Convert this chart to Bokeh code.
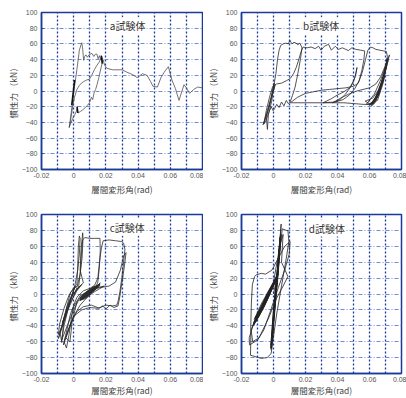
from bokeh.plotting import figure
from bokeh.layouts import gridplot
from bokeh.models import Range1d, FixedTicker, PrintfTickFormatter, Label
from bokeh.embed import file_html
from bokeh.resources import INLINE

# ---------------- data ----------------
x_ticks = [-0.02, 0, 0.02, 0.04, 0.06, 0.08]
x_grid = [-0.01, 0, 0.01, 0.02, 0.03, 0.04, 0.05, 0.06, 0.07]
y_ticks = [-100, -80, -60, -40, -20, 0, 20, 40, 60, 80, 100]
y_grid = [-80, -60, -40, -20, 0, 20, 40, 60, 80]
titles = ["a試験体", "b試験体", "c試験体", "d試験体"]
title_pos = [(0.0335, 83), (0.0298, 83), (0.0333, 84), (0.0333, 83)]
x_label = "層間変形角(rad)"
y_label = "慣性力 （kN）"

a_pts = [(-0.0028, -47), (-0.0015, -27), (0.0003, 3), (0.0015, 20), (0.0028, 40), (0.0035, 52),
         (0.0050, 61.5), (0.0055, 55), (0.0062, 39), (0.0068, 44), (0.0076, 46), (0.0085, 43),
         (0.0095, 46), (0.0113, 48), (0.0125, 44), (0.0135, 47), (0.0144, 47), (0.0152, 41),
         (0.0160, 45), (0.0167, 40), (0.0174, 44), (0.0180, 38),
         (0.0168, 28), (0.0155, 16), (0.0145, 8), (0.0136, 2), (0.0128, -1), (0.0118, -11),
         (0.0110, -8), (0.0098, -15), (0.0087, -18), (0.0072, -21), (0.0056, -24), (0.0042, -26),
         (0.0028, -28), (0.0022, -22), (0.0016, -26), (0.0005, -31), (-0.0006, -35), (-0.0018, -41),
         (-0.0028, -46),
         (-0.0020, -38), (-0.0008, -22), (0.0005, -8), (0.0020, 2), (0.0035, 7), (0.0048, 10),
         (0.0062, 12), (0.0080, 14), (0.0097, 15), (0.0112, 20), (0.0128, 27), (0.0145, 33),
         (0.0159, 37), (0.0172, 43), (0.0182, 40), (0.0192, 33), (0.0206, 29), (0.0240, 27),
         (0.0275, 27), (0.0300, 27), (0.0330, 24), (0.0365, 21), (0.0395, 17), (0.0427, 22),
         (0.0455, 20), (0.0478, 12), (0.0492, 6), (0.0520, 5), (0.0542, 17), (0.0562, 24),
         (0.0588, 31), (0.0610, 14), (0.0632, 3), (0.0654, -12), (0.0685, 8), (0.0700, 4),
         (0.0720, -3), (0.0745, 2), (0.0770, 5), (0.0800, 4)]
a_thick = [[(-0.0012, -18), (0.0006, 14)], [(0.0171, 45), (0.0178, 35)], [(0.0021, -20), (0.0025, -28)]]
a_blob = []

b_pts = [(0.000, 0), (0.001, 8), (-0.003, -22), (-0.0055, -38), (-0.0065, -43), (-0.004, -26),
         (-0.0015, -8), (0.0005, 10), (-0.002, -14), (-0.0045, -33), (-0.0038, -49), (-0.0032, -30),
         (-0.001, -12), (0.000, 5),
         (0.0015, 22), (0.0025, 40), (0.0035, 52), (0.0045, 58), (0.0060, 60), (0.0078, 61),
         (0.0092, 60), (0.0103, 64.5), (0.0115, 60), (0.0128, 62), (0.0140, 61), (0.0152, 59),
         (0.0165, 61), (0.0178, 55),
         (0.0168, 40), (0.0152, 22), (0.0135, 5), (0.0118, -6), (0.0103, -14.5),
         (0.0092, -16), (0.0080, -12), (0.0065, -19), (0.0050, -14), (0.0035, -21), (0.0020, -17),
         (0.0008, -22), (-0.0002, -25), (-0.0015, -20), (-0.0030, -28), (-0.0048, -38), (-0.0060, -42),
         (-0.0045, -25), (-0.0025, -8), (-0.0005, 6), (0.0020, 9), (0.0050, 10), (0.0080, 13),
         (0.0105, 16), (0.0125, 22), (0.0142, 30), (0.0158, 40), (0.0172, 50), (0.0185, 56),
         (0.0210, 55), (0.0235, 56), (0.0260, 54), (0.0282, 57), (0.0297, 52), (0.0318, 57),
         (0.0344, 59.5), (0.0362, 52), (0.0386, 57), (0.0406, 53), (0.0430, 55), (0.0452, 53),
         (0.0468, 51.5), (0.0490, 55), (0.0515, 53), (0.0545, 52), (0.0570, 51),
         (0.0565, 40), (0.0552, 26), (0.0535, 13), (0.0508, 3), (0.0475, -5), (0.0435, -11),
         (0.0385, -14), (0.0310, -15), (0.0210, -15), (0.0105, -15),
         (0.0150, -8), (0.0200, -3), (0.0250, -1), (0.0300, 1), (0.0350, 2), (0.0400, 3),
         (0.0450, 4), (0.0500, 6), (0.0530, 10), (0.0555, 24), (0.0575, 40), (0.0590, 52),
         (0.0605, 56), (0.0622, 55), (0.0640, 53), (0.0665, 52), (0.0690, 51), (0.0705, 50.5),
         (0.0712, 44),
         (0.0695, 25), (0.0672, 8), (0.0650, -4), (0.0625, -13), (0.0600, -17), (0.0560, -17),
         (0.0500, -16), (0.0440, -15), (0.0380, -15), (0.0310, -15),
         (0.0360, -10), (0.0400, -5), (0.0440, -1), (0.0475, 4), (0.0500, 12), (0.0515, 22),
         (0.0522, 30), (0.0510, 18), (0.0485, 6), (0.0450, -4), (0.0415, -11), (0.0370, -15),
         (0.0420, -9), (0.0470, -4), (0.0520, 0), (0.0560, 2), (0.0600, 4), (0.0640, 9),
         (0.0670, 18), (0.0700, 33), (0.0725, 46),
         (0.0705, 30), (0.0680, 12), (0.0650, -3), (0.0618, -16), (0.0580, -17), (0.0630, -4),
         (0.0670, 14), (0.0698, 30), (0.0710, 40), (0.0690, 20), (0.0660, 2), (0.0630, -12),
         (0.0605, -18), (0.0640, -7), (0.0675, 12), (0.0702, 32), (0.0690, 18), (0.0662, -2),
         (0.0635, -15), (0.0612, -19), (0.0650, -6), (0.0685, 16), (0.0708, 36), (0.0712, 42),
         (0.0695, 22), (0.0665, 4), (0.0640, -10), (0.0620, -17), (0.0655, -6), (0.0690, 18),
         (0.0706, 34), (0.0685, 10), (0.0650, -12), (0.0600, -16), (0.0573, -13), (0.0620, -9),
         (0.0660, 2), (0.0700, 26), (0.0718, 40)]
b_thick = []
b_blob = [[(0.0600, -18), (0.0640, -8), (0.0680, 10), (0.0705, 30), (0.0712, 42),
           (0.0695, 18), (0.0660, -4), (0.0625, -16), (0.0600, -18)]]

c_pts = [(0.000, 0), (0.003, 8), (0.005, 12), (0.002, 4), (-0.002, -10), (-0.005, -25),
         (-0.007, -36), (-0.005, -24), (-0.002, -6), (0.002, 6), (0.006, 14),
         (0.004, 30), (0.0045, 55), (0.0056, 77), (0.0058, 70), (0.0052, 45), (0.004, 25),
         (0.002, 8), (-0.001, -8), (-0.004, -22), (-0.007, -40), (-0.0095, -51), (-0.0088, -38),
         (-0.006, -18), (-0.003, -2), (0.000, 8), (0.002, 12),
         (0.0025, 35), (0.0029, 60), (0.0035, 73), (0.004, 70), (0.0035, 50), (0.0025, 30),
         (0.0005, 8), (-0.003, -15), (-0.006, -35), (-0.0085, -50), (-0.0095, -56), (-0.008, -45),
         (-0.005, -25), (-0.001, -2), (0.003, 8),
         (0.004, 25), (0.0048, 50), (0.0055, 68), (0.0070, 71), (0.0100, 70), (0.0130, 70),
         (0.0163, 70), (0.0165, 55), (0.0160, 35), (0.0150, 15), (0.0130, 5), (0.0080, -5),
         (0.0040, -14), (0.0000, -28), (-0.0030, -45), (-0.0064, -64), (-0.0050, -52),
         (-0.0020, -25), (0.0020, -4), (0.0060, 4), (0.0100, 7), (0.0130, 11), (0.0150, 20),
         (0.0160, 40), (0.0172, 58), (0.0183, 67), (0.0220, 68), (0.0260, 67), (0.0297, 66),
         (0.0310, 64), (0.0318, 56), (0.0310, 40), (0.0300, 22), (0.0287, 3), (0.0276, -9),
         (0.0268, -14), (0.0240, -15), (0.0200, -14), (0.0150, -18), (0.0100, -17), (0.0050, -20),
         (0.0000, -28), (-0.0035, -45), (-0.0060, -60), (-0.0045, -68), (-0.0030, -52),
         (-0.0005, -18), (0.0040, -2), (0.0100, 4), (0.0160, 8), (0.0220, 10), (0.0260, 15),
         (0.0290, 30), (0.0310, 48), (0.0325, 52), (0.0315, 35), (0.0300, 15), (0.0285, -5),
         (0.0275, -15), (0.0250, -17), (0.0225, -14), (0.0200, -19), (0.0180, -15), (0.0160, -18),
         (0.0110, -14), (0.0060, -16), (0.0020, -22), (-0.0020, -38), (-0.0050, -55),
         (-0.0023, -60), (-0.0010, -35), (0.0020, -10),
         (0.0060, 0), (0.0120, 8), (0.0160, 12), (0.0120, 4), (0.0060, -5), (0.0040, -8),
         (0.0090, 2), (0.0140, 9), (0.0165, 14), (0.0130, 5), (0.0070, -4), (0.0045, -6),
         (0.0100, 3), (0.0150, 10), (0.0160, 13), (0.0110, 2), (0.0055, -6), (0.0050, -3),
         (0.0110, 5), (0.0155, 11), (0.0135, 6), (0.0080, -2), (0.0050, -7), (0.0095, 1),
         (0.0145, 8), (0.0190, 10), (0.0130, 3), (0.0070, -6),
         (0.0030, -8), (0.0000, -20), (-0.0040, -40), (-0.0075, -58), (-0.0060, -40),
         (-0.0030, -15), (0.0000, 5), (0.0010, 10), (-0.0040, -15), (-0.0085, -48),
         (-0.0074, -61), (-0.0060, -30), (-0.0020, 2), (0.0020, 10)]
c_thick = []
c_blob = [[(0.0040, -4), (0.0080, 3), (0.0120, 9), (0.0163, 12), (0.0160, 10), (0.0120, 3),
           (0.0080, -4), (0.0040, -8), (0.0040, -4)]]

d_pts = [(0.000, 0), (0.002, 20), (-0.004, -8), (-0.012, -32), (-0.008, -14), (-0.002, 8),
         (0.0022, 22), (-0.003, 0), (-0.011, -35), (-0.006, -17), (0.000, 10), (0.0025, 24),
         (-0.004, -4), (-0.012, -37), (-0.005, -12), (0.001, 15), (0.003, 26), (-0.005, -7),
         (-0.0125, -40), (-0.007, -19), (0.000, 12), (0.0028, 25), (-0.006, -12), (-0.0115, -30),
         (-0.004, -2), (0.002, 18),
         (0.0040, 70), (0.0030, 40), (-0.0010, -60), (0.0000, -20), (0.0045, 75), (0.0035, 50),
         (-0.0012, -65), (0.0000, -30), (0.0048, 88), (0.0038, 60), (0.0010, 0), (-0.0015, -70),
         (-0.0008, -40), (0.0030, 40), (0.0055, 82), (0.0080, 80), (0.0090, 80), (0.0096, 66),
         (0.0080, 45), (0.0050, 10), (0.0020, -25), (-0.0015, -75), (-0.0040, -80), (-0.0077, -81),
         (-0.0110, -79), (-0.0144, -77), (-0.0142, -62), (-0.0142, -40), (-0.0138, -10),
         (-0.0132, 12), (-0.0118, 22), (-0.0108, 24), (-0.0077, 26), (-0.0050, 25), (-0.0010, 30),
         (0.0030, 45), (0.0070, 60), (0.0104, 66), (0.0098, 50), (0.0070, 30), (0.0030, 8),
         (-0.0020, -22), (-0.0060, -45), (-0.0100, -58), (-0.0150, -64), (-0.0152, -55),
         (-0.0120, -35), (-0.0060, -10), (0.0000, 15), (0.0035, 55), (0.0042, 72), (0.0030, 30),
         (0.0000, -30), (-0.0017, -64), (-0.0004, -52), (0.0025, 20), (0.0040, 60), (0.0032, 35),
         (-0.0005, -45), (-0.0015, -68), (0.0010, -10), (0.0045, 65), (0.0060, 75), (0.0050, 40),
         (0.0090, 22), (0.0060, 10), (0.0020, -5), (-0.0030, -30), (-0.0090, -55), (-0.0130, -60),
         (-0.0140, -45), (-0.0100, -25), (-0.0040, 0), (0.0020, 20)]
d_thick = []
d_blob = [[(-0.0125, -36), (-0.0080, -18), (-0.0040, 0), (0.0000, 15), (0.0025, 26),
           (0.0025, 22), (-0.0010, 6), (-0.0050, -12), (-0.0090, -28), (-0.0125, -38)],
          [(-0.0018, -68), (0.0000, -20), (0.0020, 20), (0.0045, 75), (0.0048, 72),
           (0.0025, 15), (0.0005, -25), (-0.0010, -66)]]

panels = [(a_pts, a_thick, a_blob, "#505050"), (b_pts, b_thick, b_blob, "#2a2a2a"),
          (c_pts, c_thick, c_blob, "#2a2a2a"), (d_pts, d_thick, d_blob, "#222222")]

FRAME = "#1b3a9a"


def make_panel(pts, thick, blobs, color, title, tpos, left, right, top, bottom, label_gap):
    p = figure(width=203, height=199, x_range=Range1d(-0.02, 0.08), y_range=Range1d(-100, 100),
               output_backend="svg", toolbar_location=None, tools="")
    p.min_border_left = left
    p.min_border_right = right
    p.min_border_top = top
    p.min_border_bottom = bottom
    p.background_fill_color = "white"
    p.border_fill_color = "white"
    p.outline_line_color = FRAME
    p.outline_line_width = 1.5

    p.xaxis.ticker = FixedTicker(ticks=x_ticks)
    p.xaxis.formatter = PrintfTickFormatter(format="%.2f")
    p.xaxis.major_label_overrides = {0: "0"}
    p.yaxis.ticker = FixedTicker(ticks=y_ticks)
    p.xaxis.axis_label = x_label
    p.yaxis.axis_label = y_label
    for ax in (p.xaxis, p.yaxis):
        ax.axis_line_color = FRAME
        ax.axis_line_width = 1.5
        ax.major_tick_in = 2
        ax.major_tick_out = 0
        ax.major_tick_line_color = FRAME
        ax.minor_tick_line_color = None
        ax.major_label_text_font = "Liberation Sans"
        ax.major_label_text_font_size = "7px"
        ax.major_label_text_color = "#555555"
        ax.axis_label_text_font = "Noto Sans CJK JP"
        ax.axis_label_text_font_size = "8.5px"
        ax.axis_label_text_font_style = "normal"
        ax.axis_label_text_color = "#444444"
    p.xaxis.major_label_standoff = 3
    p.yaxis.major_label_standoff = 4
    p.xaxis.axis_label_standoff = label_gap
    p.yaxis.axis_label_standoff = 0

    p.xgrid.ticker = FixedTicker(ticks=x_grid)
    p.xgrid.grid_line_color = FRAME
    p.xgrid.grid_line_width = 1.3
    p.xgrid.grid_line_dash = "2 2"
    p.ygrid.ticker = FixedTicker(ticks=y_grid)
    p.ygrid.grid_line_color = "#6f8fd0"
    p.ygrid.grid_line_width = 1
    p.ygrid.grid_line_dash = "4 2 1 2"

    for blob in blobs:
        p.patch([q[0] for q in blob], [q[1] for q in blob], fill_color="#1a1a1a",
                fill_alpha=0.85, line_color="#1a1a1a", line_width=0.6)
    xs = [q[0] for q in pts]
    ys = [q[1] for q in pts]
    p.line(xs, ys, line_color=color, line_width=0.8)
    for seg in thick:
        p.line([q[0] for q in seg], [q[1] for q in seg], line_color="#111111", line_width=1.6)

    p.add_layout(Label(x=tpos[0], y=tpos[1], text=title, text_font="Noto Sans CJK JP",
                       text_font_size="10px", text_align="center", text_baseline="middle",
                       text_color="#333333", background_fill_color="white",
                       background_fill_alpha=1.0, padding=1))
    return p


# (left, right, top, bottom, x-label gap) per panel
frame_style = [(41, 1, 12, 30, 2), (37, 5, 12, 30, 2), (41, 1, 15, 23, -1), (37, 5, 15, 23, -1)]
figs = [make_panel(pts, thick, blobs, col, t, tp, *fs)
        for (pts, thick, blobs, col), t, tp, fs in zip(panels, titles, title_pos, frame_style)]
grid = gridplot([[figs[0], figs[1]], [figs[2], figs[3]]], toolbar_location=None)

open("out.html", "w").write(file_html(grid, INLINE))
